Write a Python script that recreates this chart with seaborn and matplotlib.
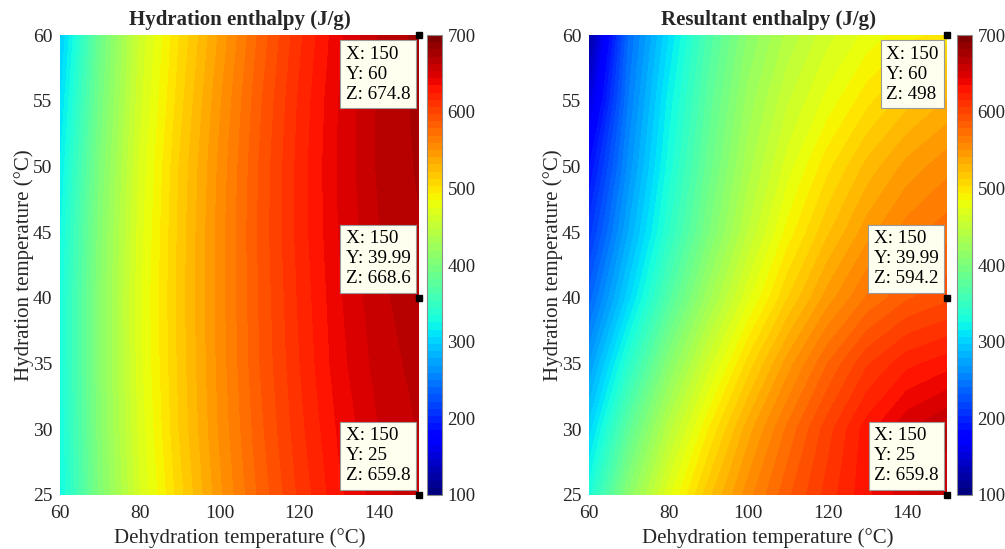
import numpy as np
import matplotlib
matplotlib.use("Agg")
import matplotlib.pyplot as plt
from matplotlib.colors import Normalize
from matplotlib.cm import ScalarMappable
import seaborn as sns

# Grid of operating conditions
dehydration_temp = [60, 70, 80, 90, 100, 110, 120, 130, 140, 150]
hydration_temp = [25, 30, 35, 40, 45, 50, 55, 60]

# Hydration enthalpy (J/g), one row per hydration temperature
hydration_enthalpy = [
    [322, 402, 464, 508, 547, 580, 608, 632, 649, 659.8],
    [325, 406, 468, 513, 551, 584, 612, 636, 653, 663],
    [327, 408, 471, 515, 553, 587, 615, 640, 657, 666],
    [327, 408, 472, 516, 554, 588, 617, 642, 660, 668.6],
    [322, 405, 470, 515, 554, 589, 619, 644, 662, 671],
    [315, 400, 467, 513, 552, 588, 619, 645, 664, 673],
    [305, 393, 462, 508, 548, 585, 617, 644, 664, 674.2],
    [293, 387, 458, 503, 542, 580, 613, 641, 663, 674.8],
]

# Resultant enthalpy (J/g), one row per hydration temperature
resultant_enthalpy = [
    [330, 410, 472, 518, 555, 585, 610, 632, 650, 659.8],
    [300, 378, 442, 493, 536, 571, 602, 630, 652, 664],
    [268, 340, 406, 460, 506, 545, 578, 605, 622, 630],
    [235, 302, 368, 424, 472, 512, 545, 570, 586, 594.2],
    [207, 278, 342, 398, 447, 488, 520, 546, 564, 574],
    [183, 262, 328, 385, 433, 470, 500, 525, 544, 556],
    [150, 250, 318, 375, 422, 455, 478, 500, 518, 532],
    [118, 240, 305, 365, 410, 440, 462, 478, 490, 498],
]

titles = ["Hydration enthalpy (J/g)", "Resultant enthalpy (J/g)"]
x_ticks = [60, 80, 100, 120, 140]
y_ticks = [25, 30, 35, 40, 45, 50, 55, 60]
cbar_ticks = [100, 200, 300, 400, 500, 600, 700]
z_min, z_max = 100, 700

# Data tips shown on each panel: (x, y, z)
tips_hydration = [(150, 60, 674.8), (150, 39.99, 668.6), (150, 25, 659.8)]
tips_resultant = [(150, 60, 498), (150, 39.99, 594.2), (150, 25, 659.8)]

sns.set_theme(style="white")
plt.rcParams["font.family"] = ["Liberation Serif", "DejaVu Serif"]

cmap = plt.get_cmap("jet", 64)
norm = Normalize(vmin=z_min, vmax=z_max)
levels = np.linspace(z_min, z_max, 65)

fig = plt.figure(figsize=(10.05, 5.49), dpi=100)

ax_boxes = [
    (0.0597, 0.0984, 0.3572, 0.8378),
    (0.5861, 0.0984, 0.3562, 0.8378),
]
cb_boxes = [
    (0.4249, 0.0984, 0.0149, 0.8378),
    (0.9522, 0.0984, 0.0149, 0.8378),
]
fields = [hydration_enthalpy, resultant_enthalpy]
tip_sets = [tips_hydration, tips_resultant]

X, Y = np.meshgrid(dehydration_temp, hydration_temp)
text_color = "#262626"

for k in range(2):
    ax = fig.add_axes(ax_boxes[k])
    Z = np.array(fields[k], dtype=float)
    cs = ax.contourf(X, Y, Z, levels=levels, cmap=cmap, norm=norm)
    cs.set_edgecolor("face")
    cs.set_linewidth(0.4)
    ax.set_xlim(60, 150)
    ax.set_ylim(25, 60)
    ax.set_xticks(x_ticks)
    ax.set_yticks(y_ticks)
    ax.tick_params(axis="x", length=0, labelsize=14, pad=7.5, colors=text_color)
    ax.tick_params(axis="y", length=0, labelsize=14, pad=5.5, colors=text_color)
    for s in ax.spines.values():
        s.set_visible(False)
    ax.set_title(titles[k], fontsize=15, fontweight="bold", pad=7)
    ax.set_xlabel("Dehydration temperature (°C)", fontsize=15, labelpad=4, color=text_color)
    ax.set_ylabel("Hydration temperature (°C)", fontsize=15, labelpad=-1, color=text_color)

    # data tip markers and their labels
    for (tx, ty, tz) in tip_sets[k]:
        ax.plot(tx, ty, "s", color="black", ms=4.5, clip_on=False, zorder=6)
        label = f"X: {tx:g}\nY: {ty:g}\nZ: {tz:g}"
        if ty >= 59:
            off, va = (-8.5, -10.5), "top"
        else:
            off, va = (-8.5, 10.5), "bottom"
        ax.annotate(
            label, xy=(tx, ty), xytext=off, textcoords="offset pixels",
            ha="right", va=va, multialignment="left", fontsize=13.8, linespacing=1.25,
            color="black", zorder=7, annotation_clip=False,
            bbox=dict(boxstyle="square,pad=0.28", fc="#FFFFF0", ec="#9a9a9a", lw=0.8),
        )

    cax = fig.add_axes(cb_boxes[k])
    cb = fig.colorbar(ScalarMappable(norm=norm, cmap=cmap), cax=cax, ticks=cbar_ticks)
    cb.outline.set_edgecolor("#8c8c8c")
    cb.outline.set_linewidth(0.8)
    cax.tick_params(direction="in", length=3, width=0.6, labelsize=13.5,
                    colors=text_color, pad=4)

fig.savefig("out.png", dpi=100)
